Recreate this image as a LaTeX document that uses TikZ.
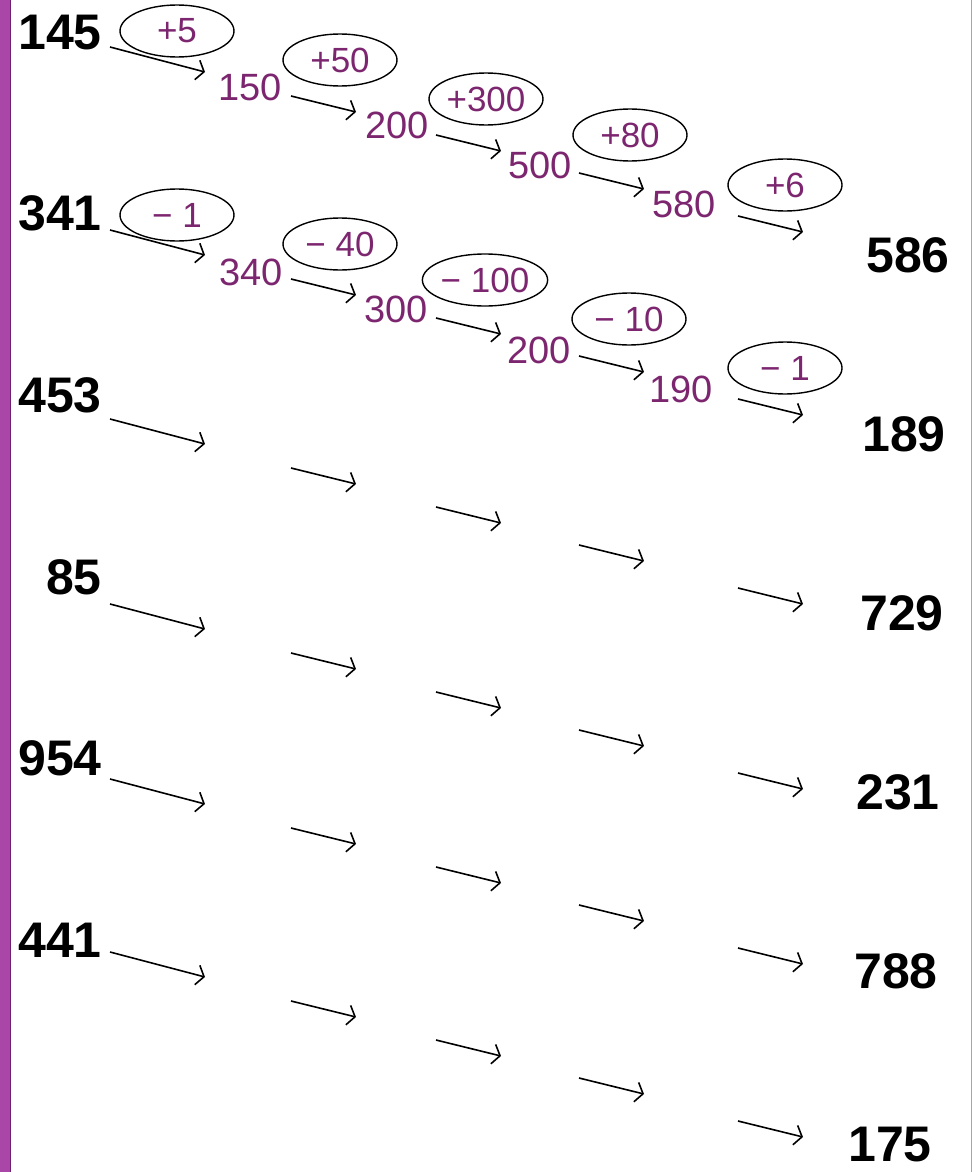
\documentclass[tikz,border=0pt]{standalone}
\usepackage{fontspec}
\setmainfont{Liberation Sans}
\usepackage{tikz}
\usetikzlibrary{arrows.meta, shapes.geometric}

\definecolor{stripviolet}{RGB}{170,70,168}
\definecolor{stripedge}{RGB}{112,32,110}
\definecolor{stepviolet}{RGB}{125,38,112}

\begin{document}
\begin{tikzpicture}[
  x=1pt, y=-1pt,
  given/.style={font=\fontsize{50}{50}\selectfont\bfseries, inner sep=0pt, anchor=base east},
  result/.style={font=\fontsize{50}{50}\selectfont\bfseries, inner sep=0pt, anchor=base west},
  mid/.style={font=\fontsize{38}{38}\selectfont, text=stepviolet, inner sep=0pt, anchor=base west},
  op/.style={ellipse, draw, line width=1.4pt, minimum width=114pt, minimum height=52pt, inner sep=0pt,
    font=\fontsize{35}{35}\selectfont, text=stepviolet},
  arr/.style={-{Straight Barb[length=7pt, width=20pt]}, line width=1.6pt}
]

\useasboundingbox (0,0) rectangle (973,1172);
\fill[stripviolet] (0,0) rectangle (10,1172);
\draw[stripedge, line width=1.2pt] (10.5,0) -- (10.5,1172);
\draw[black!35, line width=1pt] (971,0) -- (971,1172);

\node[given] (n145) at (102,50) {145};
\node[given] (n341) at (102,230) {341};
\node[given] (n453) at (102,412) {453};
\node[given] (n85) at (102,594) {85};
\node[given] (n954) at (102,775) {954};
\node[given] (n441) at (102,957) {441};

\node[mid] (n150) at (218,100) {150};
\node[mid] (n200a) at (365,138) {200};
\node[mid] (n500) at (508,178) {500};
\node[mid] (n580) at (652,217) {580};
\node[mid] (n340) at (219,285) {340};
\node[mid] (n300) at (364,322) {300};
\node[mid] (n200b) at (507,363) {200};
\node[mid] (n190) at (649,402) {190};

\node[result] (n586) at (866,272) {586};
\node[result] (n189) at (862,451) {189};
\node[result] (n729) at (860,630) {729};
\node[result] (n231) at (856,809) {231};
\node[result] (n788) at (854,988) {788};
\node[result] (n175) at (848,1161) {175};

\node[op] (p5) at (177,31) {+5};
\node[op] (p50) at (340,60) {+50};
\node[op] (p300) at (486,99) {+300};
\node[op] (p80) at (630,135) {+80};
\node[op] (p6) at (785,185) {+6};
\node[op] (m1a) at (177,215) {− 1};
\node[op] (m40) at (340,244) {− 40};
\node[op] (m100) at (485,280) {− 100};
\node[op] (m10) at (629,319) {− 10};
\node[op] (m1b) at (785,368) {− 1};

\foreach \r/\y in {1/47, 2/230, 3/419, 4/604, 5/779, 6/952} {
  \foreach \j/\xs/\xe/\dy/\dr in {1/110/205/0/25, 2/291/356/49/16, 3/436/501/88/16,
      4/579/644/126/16, 5/738/803/169/16} {
    \coordinate (r\r s\j) at (\xs,\y+\dy);
    \coordinate (r\r e\j) at (\xe,\y+\dy+\dr);
    \draw[arr] (r\r s\j) -- (r\r e\j);
  }
}

\end{tikzpicture}
\end{document}
